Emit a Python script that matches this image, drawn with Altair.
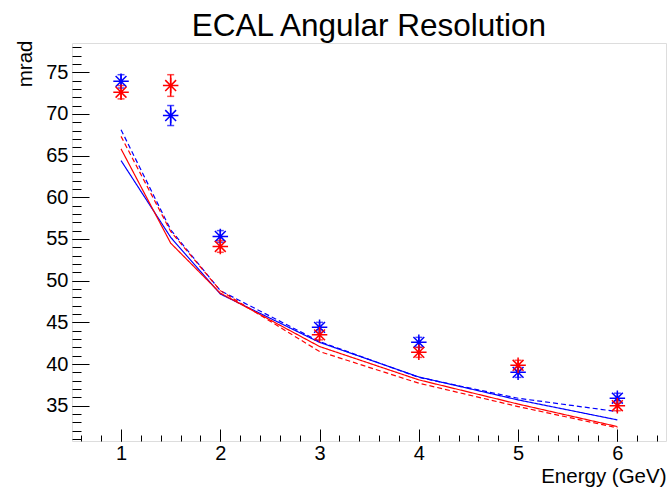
import altair as alt
import pandas as pd

# ---- data ----
energy_pts = [1, 1.5, 2, 3, 4, 5, 6]
blue_vals = [73.9, 69.8, 55.3, 44.4, 42.6, 39.0, 35.9]
blue_errs = [0.8, 1.2, 0.7, 0.6, 0.6, 0.6, 0.6]
red_vals = [72.6, 73.4, 54.1, 43.5, 41.4, 39.85, 35.0]
red_errs = [0.8, 1.3, 0.7, 0.6, 0.6, 0.6, 0.6]

energy_lines = [1, 1.5, 2, 3, 4, 5, 6]
blue_solid = [64.4, 55.2, 48.4, 42.6, 38.45, 35.7, 33.3]
blue_dashed = [68.1, 56.1, 48.8, 42.7, 38.4, 35.9, 34.3]
red_solid = [65.8, 54.5, 48.5, 42.1, 38.1, 35.2, 32.5]
red_dashed = [67.3, 55.9, 48.8, 41.5, 37.7, 34.9, 32.35]

x_major_ticks = [1, 2, 3, 4, 5, 6]
x_minor_ticks = [round(0.6 + 0.2 * i, 1) for i in range(30)]
y_major_ticks = [35, 40, 45, 50, 55, 60, 65, 70, 75]
y_minor_ticks = list(range(31, 79))

x_domain = [0.506, 6.49]
y_domain = [30.77, 78.5]

FONT = "Liberation Sans"

# ---- tables ----
rows = []
for e, v, er in zip(energy_pts, blue_vals, blue_errs):
    rows.append({"energy": e, "value": v, "lo": v - er, "hi": v + er, "series": "blue"})
for e, v, er in zip(energy_pts, red_vals, red_errs):
    rows.append({"energy": e, "value": v, "lo": v - er, "hi": v + er, "series": "red"})
pts = pd.DataFrame(rows)

lrows = []
for name, vals, col, dash in [("blue solid", blue_solid, "blue", "solid"),
                               ("blue dashed", blue_dashed, "blue", "dashed"),
                               ("red solid", red_solid, "red", "solid"),
                               ("red dashed", red_dashed, "red", "dashed")]:
    for e, v in zip(energy_lines, vals):
        lrows.append({"energy": e, "value": v, "line": name, "series": col, "dash": dash})
lines_df = pd.DataFrame(lrows)

xs = alt.Scale(domain=x_domain, nice=False, zero=False)
ys = alt.Scale(domain=y_domain, nice=False, zero=False)

color = alt.Color("series:N", scale=alt.Scale(domain=["blue", "red"], range=["#0000ff", "#ff0000"]), legend=None)

x_axis_major = alt.Axis(values=x_major_ticks, offset=-12, tickSize=12, domain=False, grid=False,
                        labelFontSize=20, labelFont=FONT, labelPadding=2, labelColor="black",
                        tickColor="black", tickWidth=1, labelFlush=False, format="d",
                        title="Energy (GeV)", titleFont=FONT, titleFontSize=20.5, titleFontWeight="normal",
                        titleColor="black", titleX=594, titleY=53, titleAlign="right",
                        titleBaseline="alphabetic")
y_axis_major = alt.Axis(values=y_major_ticks, offset=-17, tickSize=17, domain=False, grid=False,
                        labelFontSize=20, labelFont=FONT, labelPadding=4, labelColor="black",
                        tickColor="black", tickWidth=1, labelFlush=False,
                        title="mrad", titleFont=FONT, titleFontSize=20.5, titleFontWeight="normal",
                        titleColor="black", titleAngle=270, titleX=-58, titleY=-3,
                        titleAlign="right", titleBaseline="alphabetic")

X = alt.X("energy:Q", scale=xs, axis=x_axis_major)
Y = alt.Y("value:Q", scale=ys, axis=y_axis_major)

lines = alt.Chart(lines_df).mark_line(strokeWidth=1.2).encode(
    x=X, y=Y, color=color, detail="line:N",
    strokeDash=alt.StrokeDash("dash:N", scale=alt.Scale(domain=["solid", "dashed"], range=[[1, 0], [5, 3]]), legend=None),
)

err = alt.Chart(pts).mark_rule(strokeWidth=1.5).encode(
    x=X, y=alt.Y("lo:Q", scale=ys, axis=y_axis_major), y2="hi:Q", color=color)
cap_lo = alt.Chart(pts).mark_tick(orient="horizontal", size=7, thickness=1.5).encode(
    x=X, y=alt.Y("lo:Q", scale=ys, axis=y_axis_major), color=color)
cap_hi = alt.Chart(pts).mark_tick(orient="horizontal", size=7, thickness=1.5).encode(
    x=X, y=alt.Y("hi:Q", scale=ys, axis=y_axis_major), color=color)

star = "M-1,0L1,0M0,-1L0,1M-0.7,-0.7L0.7,0.7M-0.7,0.7L0.7,-0.7"
points = alt.Chart(pts).mark_point(shape=star, size=240, strokeWidth=1.5, filled=False, opacity=1).encode(
    x=X, y=Y, color=color)

major = alt.layer(lines, err, cap_lo, cap_hi, points)

x_axis_minor = alt.Axis(values=x_minor_ticks, offset=-6, tickSize=6, domain=False, grid=False,
                        labels=False, title=None, tickColor="black", tickWidth=1, orient="bottom")
y_axis_minor = alt.Axis(values=y_minor_ticks, offset=-9, tickSize=9, domain=False, grid=False,
                        labels=False, title=None, tickColor="black", tickWidth=1, orient="left")

minor = alt.Chart(pts).mark_point(opacity=0).encode(
    x=alt.X("energy:Q", scale=xs, axis=x_axis_minor),
    y=alt.Y("value:Q", scale=ys, axis=y_axis_minor),
)

chart = alt.layer(major, minor).resolve_scale(x="independent", y="independent").properties(
    width=594, height=398,
    autosize=alt.AutoSizeParams(type="none"),
    padding={"left": 72, "top": 43, "right": 3, "bottom": 46},
    title=alt.Title("ECAL Angular Resolution", font=FONT, fontSize=31.5, fontWeight="normal",
                    color="black", anchor="middle", frame="group", baseline="alphabetic", offset=4, dy=31),
).configure_view(stroke="#222222", strokeWidth=1).configure(background="white")

chart.save("out.html", embed_options={"renderer": "svg", "actions": False})
